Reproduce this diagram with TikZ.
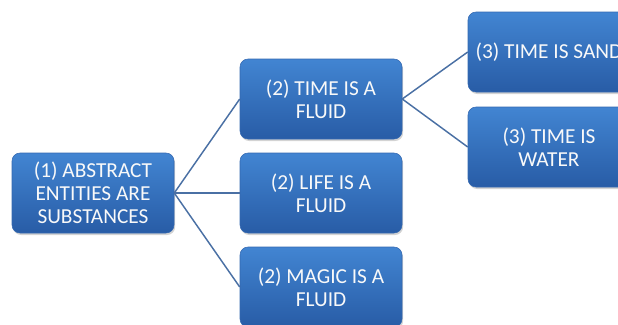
\documentclass[tikz,border=0pt]{standalone}
\usepackage{fontspec}
\setmainfont{Carlito}
\definecolor{boxtop}{RGB}{66,133,210}
\definecolor{boxbottom}{RGB}{40,92,166}
\definecolor{boxedge}{RGB}{52,104,176}
\definecolor{linkblue}{RGB}{74,112,164}
\usetikzlibrary{shapes,positioning,calc,shadows}

\begin{document}
\begin{tikzpicture}[x=0.75pt,y=-0.75pt,
    box/.style={rectangle,rounded corners=6pt,draw=boxedge,top color=boxtop,bottom color=boxbottom,
        minimum width=121.5pt,minimum height=60pt,align=center,text=white!95!gray,
        font=\fontsize{16}{17.25}\selectfont,drop shadow={opacity=0.35,shadow xshift=0.8pt,shadow yshift=-1.5pt}},
    link/.style={linkblue,line width=1.1pt}]
    \clip (0,0) rectangle (618,325);

    % root
    \node[box] (abstract) at (93,193) {(1) ABSTRACT\\ENTITIES ARE\\SUBSTANCES};

    % second level
    \node[box] (timefluid) at (321,99) {(2) TIME IS A\\FLUID};
    \node[box] (lifefluid) at (321,193) {(2) LIFE IS A\\FLUID};
    \node[box] (magicfluid) at (321,287) {(2) MAGIC IS A\\FLUID};

    % third level
    \node[box] (timesand) at (549,52) {(3) TIME IS SAND};
    \node[box] (timewater) at (549,147) {(3) TIME IS\\WATER};

    % links
    \draw[link] (abstract.east) -- (timefluid.west);
    \draw[link] (abstract.east) -- (lifefluid.west);
    \draw[link] (abstract.east) -- (magicfluid.west);
    \draw[link] (timefluid.east) -- (timesand.west);
    \draw[link] (timefluid.east) -- (timewater.west);
\end{tikzpicture}
\end{document}
